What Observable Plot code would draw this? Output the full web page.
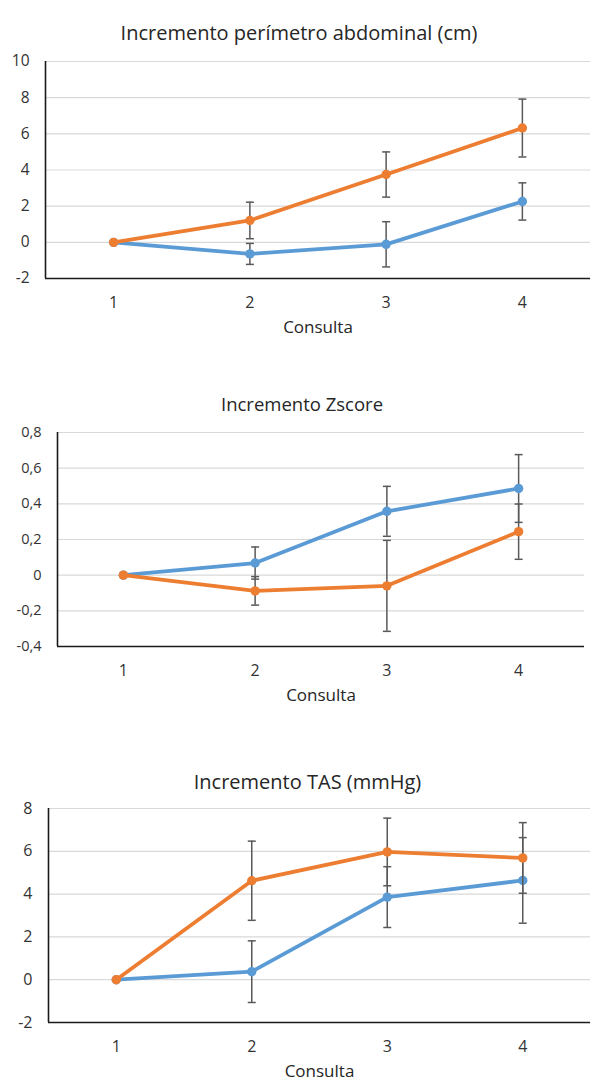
<!DOCTYPE html>
<html>
<head>
<meta charset="utf-8">
<script src="https://cdn.jsdelivr.net/npm/d3@7"></script>
<script src="https://cdn.jsdelivr.net/npm/@observablehq/plot@0.6"></script>
<style>
  html, body { margin: 0; padding: 0; background: #fff; }
  #wrap { position: relative; width: 590px; height: 1081px; overflow: hidden; }
  #wrap svg { position: absolute; left: 0; }
</style>
</head>
<body>
<div id="wrap"></div>
<script>
// ---- data ----
const consulta = [1, 2, 3, 4];

const perimTitle = "Incremento perímetro abdominal (cm)";
const perimBlue = [0, -0.64, -0.11, 2.26];
const perimBlueErr = [0, 0.58, 1.25, 1.03];
const perimOrange = [0, 1.21, 3.75, 6.32];
const perimOrangeErr = [0, 1.01, 1.25, 1.6];
const perimTicks = [-2, 0, 2, 4, 6, 8, 10];

const zTitle = "Incremento Zscore";
const zBlue = [0, 0.068, 0.358, 0.486];
const zBlueErr = [0, 0.09, 0.14, 0.19];
const zOrange = [0, -0.088, -0.06, 0.244];
const zOrangeErr = [0, 0.08, 0.255, 0.155];
const zTicks = [-0.4, -0.2, 0, 0.2, 0.4, 0.6, 0.8];

const tasTitle = "Incremento TAS (mmHg)";
const tasBlue = [0, 0.375, 3.86, 4.64];
const tasBlueErr = [0, 1.44, 1.42, 2.0];
const tasOrange = [0, 4.625, 5.97, 5.69];
const tasOrangeErr = [0, 1.85, 1.58, 1.65];
const tasTicks = [-2, 0, 2, 4, 6, 8];

const xLabel = "Consulta";
const blue = "#5B9BD5";
const orange = "#ED7D31";

// ---- helpers ----
const capSymbol = {
  draw(ctx, size) {
    const w = Math.sqrt(size / Math.PI);
    ctx.moveTo(-w, 0);
    ctx.lineTo(w, 0);
  }
};
const rows = (vals, errs) => consulta.map((c, i) => ({c, v: vals[i], e: errs[i]}));
const fmt = d => String(+d.toFixed(2)).replace(".", ",");

function seriesMarks(data, color) {
  const withErr = data.filter(d => d.e > 0);
  return [
    Plot.ruleX(withErr, {x: "c", y1: d => d.v - d.e, y2: d => d.v + d.e, stroke: "#595959", strokeWidth: 1.5}),
    Plot.dot(withErr, {x: "c", y: d => d.v + d.e, symbol: capSymbol, r: 4, fill: "none", stroke: "#595959", strokeWidth: 1.5}),
    Plot.dot(withErr, {x: "c", y: d => d.v - d.e, symbol: capSymbol, r: 4, fill: "none", stroke: "#595959", strokeWidth: 1.5}),
    Plot.line(data, {x: "c", y: "v", stroke: color, strokeWidth: 3.8}),
    Plot.dot(data, {x: "c", y: "v", r: 4.7, fill: color})
  ];
}

function panel({top, height, mt, mb, ml, mr, ticks, title, titleDy, titleDx, titleSize, yFont, xFont, blueRows, orangeRows}) {
  const svg = Plot.plot({
    width: 590,
    height,
    marginTop: mt,
    marginBottom: mb,
    marginLeft: ml,
    marginRight: mr,
    style: {fontFamily: "'Open Sans', sans-serif", fontSize: "15px", color: "#333333", background: "transparent"},
    x: {type: "linear", domain: [0.5, 4.5]},
    y: {domain: [ticks[0], ticks[ticks.length - 1]]},
    marks: [
      Plot.gridY(ticks.slice(1), {stroke: "#D9D9D9", strokeOpacity: 1, strokeWidth: 1.2}),
      Plot.axisY(ticks, {tickSize: 0, tickPadding: 16, tickFormat: fmt, fontSize: yFont, label: null}),
      Plot.axisX(consulta, {tickSize: 0, tickPadding: 18, tickFormat: d => String(d), fontSize: xFont, label: null}),
      ...seriesMarks(blueRows, blue),
      ...seriesMarks(orangeRows, orange),
      Plot.ruleY([ticks[0]], {stroke: "#1a1a1a", strokeWidth: 1.6}),
      Plot.ruleX([0.5], {stroke: "#1a1a1a", strokeWidth: 1.6}),
      Plot.text([xLabel], {frameAnchor: "bottom", dy: 54, fontSize: 17, fill: "#262626"}),
      Plot.text([title], {frameAnchor: "top", dy: titleDy, dx: titleDx, fontSize: titleSize, fill: "#262626"})
    ]
  });
  svg.style.top = top + "px";
  document.getElementById("wrap").appendChild(svg);
}

panel({top: 0, height: 345, mt: 61, mb: 67, ml: 45, mr: 0, ticks: perimTicks,
  title: perimTitle, titleDy: -36, titleDx: -19, titleSize: 20, yFont: 15.5, xFont: 16,
  blueRows: rows(perimBlue, perimBlueErr), orangeRows: rows(perimOrange, perimOrangeErr)});

panel({top: 360, height: 345, mt: 72, mb: 59, ml: 57, mr: 6, ticks: zTicks,
  title: zTitle, titleDy: -35, titleDx: -19, titleSize: 18.5, yFont: 14.5, xFont: 16,
  blueRows: rows(zBlue, zBlueErr), orangeRows: rows(zOrange, zOrangeErr)});

panel({top: 740, height: 341, mt: 68, mb: 59, ml: 48, mr: 0, ticks: tasTicks,
  title: tasTitle, titleDy: -34, titleDx: -12, titleSize: 20, yFont: 16, xFont: 16,
  blueRows: rows(tasBlue, tasBlueErr), orangeRows: rows(tasOrange, tasOrangeErr)});
</script>
</body>
</html>
